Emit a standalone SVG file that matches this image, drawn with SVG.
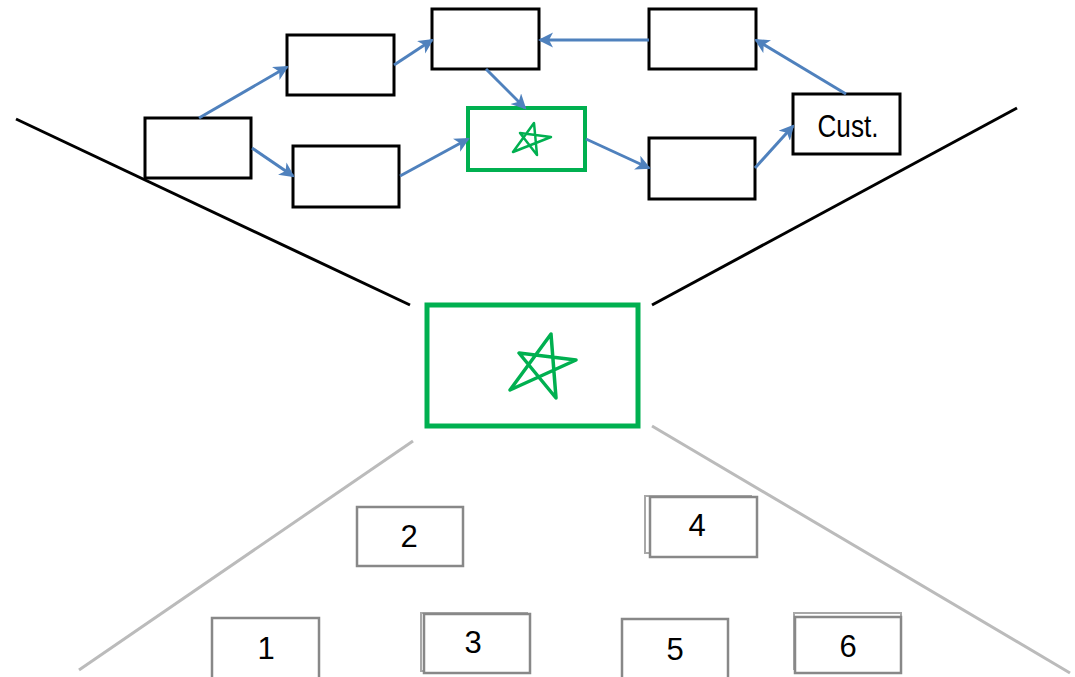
<svg xmlns="http://www.w3.org/2000/svg" width="1075" height="677" viewBox="0 0 1075 677">
  <style>
    .box { fill: #ffffff; stroke: #000000; stroke-width: 3; }
    .focus { fill: #ffffff; stroke: #00B050; stroke-width: 4; }
    .focus-big { fill: #ffffff; stroke: #00B050; stroke-width: 5; }
    .star { fill: none; stroke: #00B050; stroke-linejoin: round; stroke-linecap: round; }
    .flow { stroke: #4F81BD; stroke-width: 3; fill: none; marker-end: url(#head); }
    .funnel { stroke: #000000; stroke-width: 3; }
    .spread { stroke: #BBBBBB; stroke-width: 3; }
    .part { fill: #ffffff; stroke: #888888; stroke-width: 2.5; }
    .part-ghost { fill: none; stroke: #A8A8A8; stroke-width: 2; }
    .label { font-family: "Liberation Sans", Arial, sans-serif; font-size: 31px; fill: #000000; text-anchor: middle; }
  </style>
  <defs>
    <marker id="head" markerUnits="userSpaceOnUse" markerWidth="16" markerHeight="16" refX="13" refY="7.5" orient="auto">
      <path d="M0,0 L15,7.5 L0,15 L4,7.5 Z" fill="#4F81BD"/>
    </marker>
  </defs>

  <!-- funnel lines from the process chain down to the focus step -->
  <g id="funnel">
    <line class="funnel" x1="16" y1="119" x2="410" y2="305"/>
    <line class="funnel" x1="1017" y1="108" x2="652" y2="305"/>
  </g>

  <!-- spread lines from the focus step to its sub-parts -->
  <g id="spread">
    <line class="spread" x1="413" y1="441" x2="79" y2="670"/>
    <line class="spread" x1="652" y1="426" x2="1070" y2="673"/>
  </g>

  <!-- process chain -->
  <g id="step-a"><rect class="box" x="145" y="118" width="106" height="60"/></g>
  <g id="step-b"><rect class="box" x="287" y="35" width="107" height="60"/></g>
  <g id="step-c"><rect class="box" x="432" y="9" width="107" height="60"/></g>
  <g id="step-d"><rect class="box" x="293" y="146" width="106" height="61"/></g>
  <g id="step-focus">
    <rect class="focus" x="468" y="108" width="117" height="62"/>
    <path class="star" stroke-width="2.5" d="M513,152 L534,123 L537,155 L520,133 L551,137 Z"/>
  </g>
  <g id="step-e"><rect class="box" x="649" y="9" width="107" height="60"/></g>
  <g id="step-f"><rect class="box" x="649" y="138" width="106" height="61"/></g>
  <g id="customer">
    <rect class="box" x="793" y="94" width="107" height="60"/>
    <text class="label" x="848" y="137" textLength="61" lengthAdjust="spacingAndGlyphs">Cust.</text>
  </g>

  <!-- flow arrows -->
  <g id="connectors">
    <line class="flow" x1="199" y1="118" x2="287" y2="67"/>
    <line class="flow" x1="252" y1="148" x2="293" y2="176"/>
    <line class="flow" x1="394" y1="65" x2="432" y2="40"/>
    <line class="flow" x1="486" y1="69" x2="525" y2="108"/>
    <line class="flow" x1="400" y1="176" x2="468" y2="139"/>
    <line class="flow" x1="649" y1="40" x2="540" y2="40"/>
    <line class="flow" x1="846" y1="94" x2="756" y2="40"/>
    <line class="flow" x1="586" y1="139" x2="649" y2="168"/>
    <line class="flow" x1="755" y1="168" x2="793" y2="126"/>
  </g>

  <!-- enlarged focus step -->
  <g id="focus-detail">
    <rect class="focus-big" x="427" y="305" width="211" height="121"/>
    <path class="star" stroke-width="3.5" d="M510,390 L551,334 L556,398 L519,353 L576,360 Z"/>
  </g>

  <!-- sub-parts of the focus step -->
  <g id="part-1">
    <rect class="part" x="212" y="618" width="107" height="70"/>
    <text class="label" x="266" y="659">1</text>
  </g>
  <g id="part-2">
    <rect class="part" x="357" y="507" width="106" height="59"/>
    <text class="label" x="409" y="547">2</text>
  </g>
  <g id="part-3">
    <rect class="part-ghost" x="421" y="613" width="106" height="58"/>
    <rect class="part" x="424" y="614" width="106" height="59"/>
    <text class="label" x="473" y="653">3</text>
  </g>
  <g id="part-4">
    <rect class="part-ghost" x="645" y="496" width="106" height="57"/>
    <rect class="part" x="650" y="497" width="107" height="60"/>
    <text class="label" x="697" y="536">4</text>
  </g>
  <g id="part-5">
    <rect class="part" x="622" y="619" width="106" height="70"/>
    <text class="label" x="675" y="660">5</text>
  </g>
  <g id="part-6">
    <rect class="part-ghost" x="794" y="613" width="107" height="56"/>
    <rect class="part" x="795" y="617" width="106" height="56"/>
    <text class="label" x="848" y="657">6</text>
  </g>
</svg>
